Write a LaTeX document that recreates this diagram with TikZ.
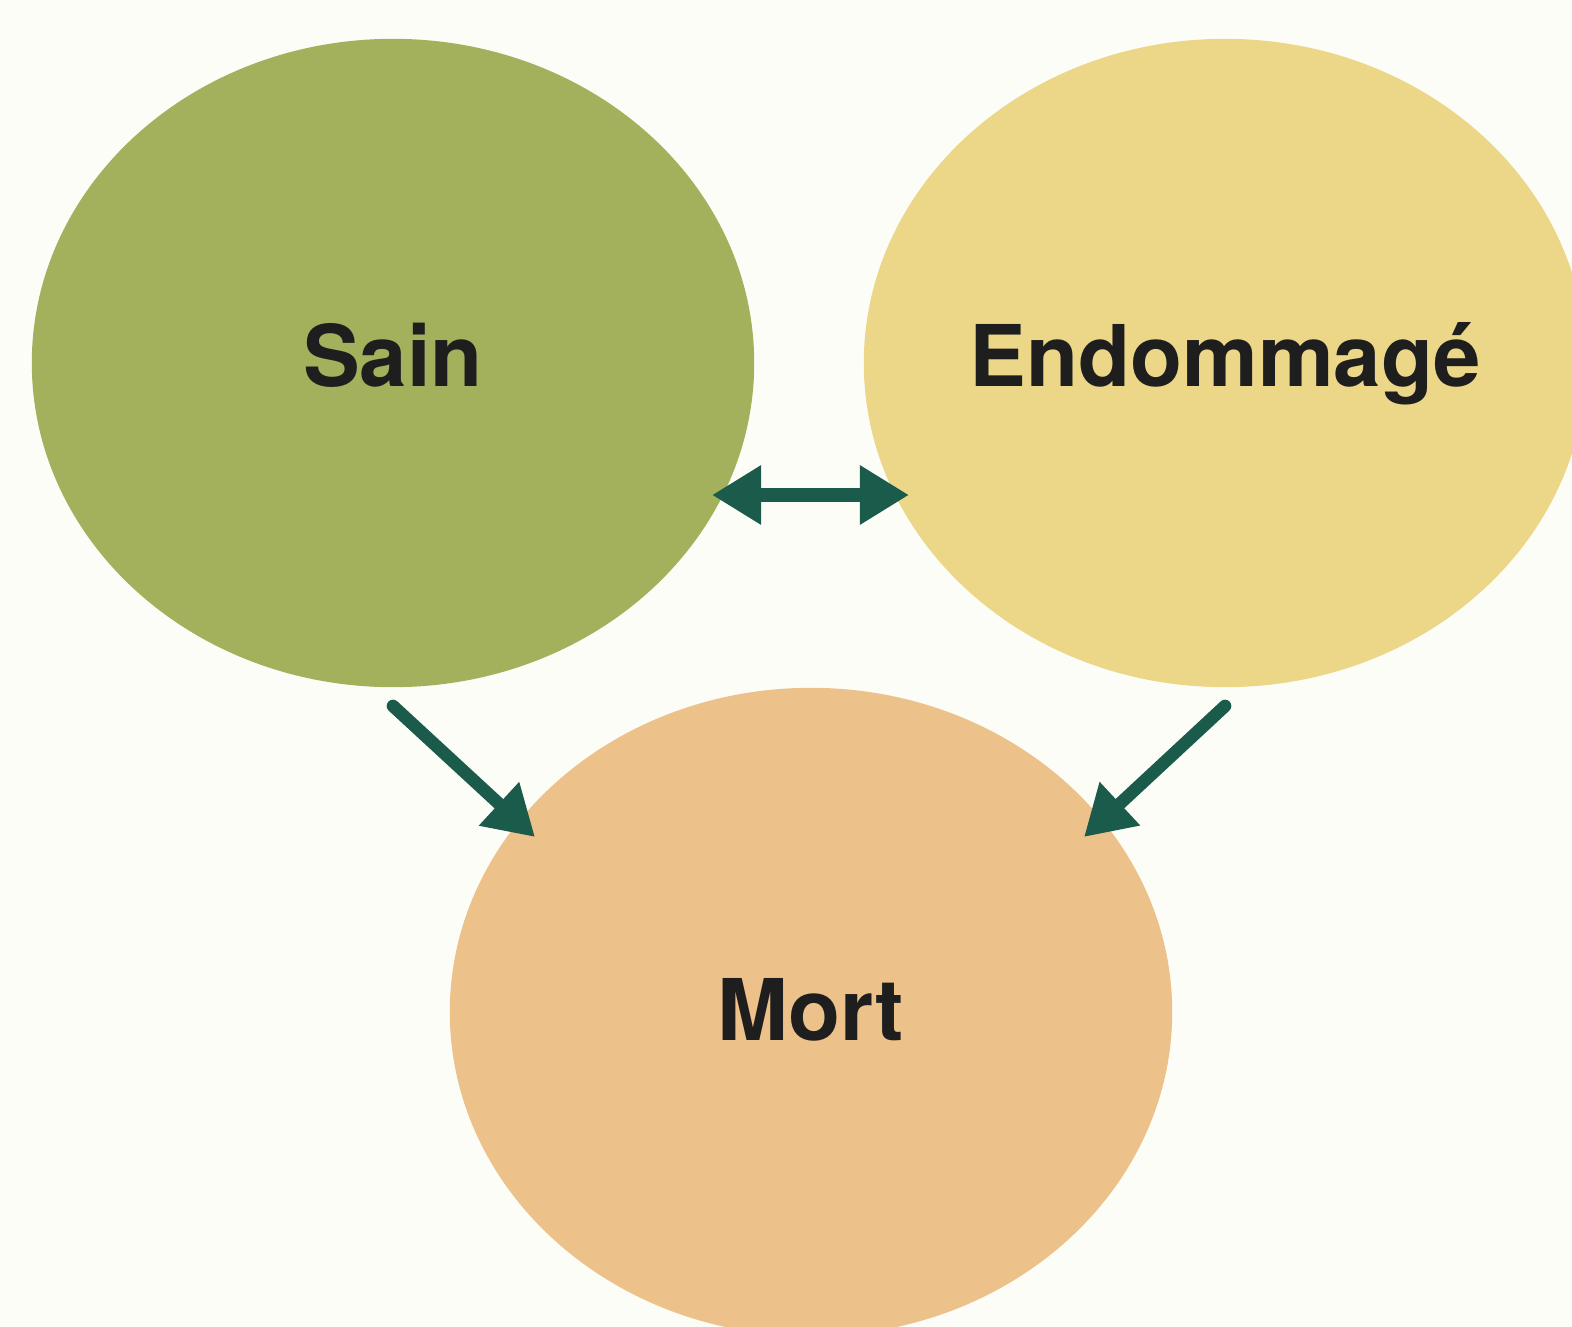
\documentclass[tikz,border=0pt]{standalone}
\usepackage{fontspec}
\setmainfont{TeX Gyre Heros}
\usetikzlibrary{shapes.geometric,arrows.meta}
\definecolor{bgcol}{HTML}{FDFDF8}
\definecolor{saincol}{HTML}{A3B05C}
\definecolor{endocol}{HTML}{ECD789}
\definecolor{mortcol}{HTML}{EDC18A}
\definecolor{arrcol}{HTML}{1B5B4B}
\definecolor{txtcol}{HTML}{1E1E1E}
\tikzset{
    etat/.style={ellipse, inner sep=0pt, minimum width=7.22cm, minimum height=6.48cm},
    etiq/.style={anchor=base, inner sep=0pt, text=txtcol, font=\fontsize{24.2}{29}\selectfont\bfseries},
    fleche/.style={draw=arrcol, line width=3.6pt, -{Triangle[length=0.49cm,width=0.56cm]}}
}
\begin{document}
\begin{tikzpicture}[x=0.01cm, y=-0.01cm]
        %background
        \fill[bgcol] (0,0) rectangle (1572,1327);
        \useasboundingbox (0,0) rectangle (1572,1327);
        \clip (0,0) rectangle (1572,1327);
        %states
        \node[etat, fill=saincol] (sain) at (393,363) {};
        \node[etat, fill=endocol] (endo) at (1225,363) {};
        \node[etat, fill=mortcol] (mort) at (811,1012) {};
        \node[etiq] (sainT) at (393,386) {Sain};
        \node[etiq] (endoT) at (1225,386) {Endommagé};
        \node[etiq] (mortT) at (811,1040) {Mort};
        %ends of the arrows
        \coordinate (sainB) at (393,706);
        \coordinate (endoB) at (1225,706);
        \coordinate (mortL) at (535,837);
        \coordinate (mortR) at (1084,837);
        \coordinate (sainR) at (712,495);
        \coordinate (endoL) at (909,495);
        \draw[fleche, line width=4pt, {Triangle[length=0.49cm,width=0.56cm]}-{Triangle[length=0.49cm,width=0.56cm]}] (sainR) -- (endoL);
        \draw[fleche, line cap=round] (sainB) -- (mortL);
        \draw[fleche, line cap=round] (endoB) -- (mortR);
    \end{tikzpicture}
\end{document}
